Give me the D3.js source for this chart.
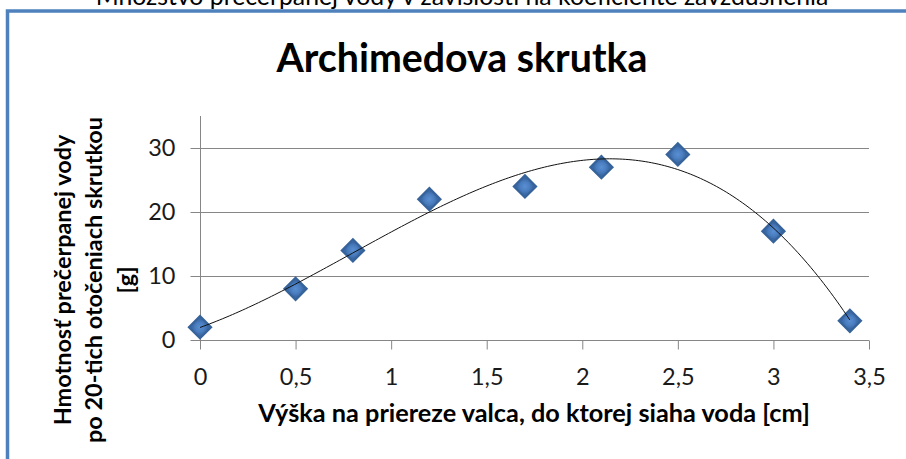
<!DOCTYPE html>
<html>
<head>
<meta charset="utf-8">
<script src="https://cdn.jsdelivr.net/npm/d3@7/dist/d3.min.js"></script>
<style>
  html, body { margin: 0; padding: 0; background: #fff; }
  svg { display: block; font-family: Lato, "Open Sans", sans-serif; }
</style>
</head>
<body>
<svg id="chart" width="906" height="459"></svg>
<script>
// ---- data ----
const xValues = [0, 0.5, 0.8, 1.2, 1.7, 2.1, 2.5, 3.0, 3.4];
const yValues = [2, 8, 14, 22, 24, 27, 29, 17, 3];
const xTicks = [0, 0.5, 1, 1.5, 2, 2.5, 3, 3.5];
const yTicks = [0, 10, 20, 30];
const captionText = "Množstvo prečerpanej vody v závislosti na koeficiente zavzdušnenia";
const titleText = "Archimedova skrutka";
const xTitle = "Výška na priereze valca, do ktorej siaha voda [cm]";
const yTitleLines = ["Hmotnosť prečerpanej vody", "po 20-tich otočeniach skrutkou", "[g]"];
const trendOrder = 3;

// ---- layout ----
const svg = d3.select("#chart");
const plot = { left: 200, right: 869, top: 116, bottom: 340 };
const x = d3.scaleLinear().domain([0, 3.5]).range([plot.left, plot.right]);
const y = d3.scaleLinear().domain([0, 35]).range([plot.bottom, plot.top]);
const grey = "#868686";
const fmt = v => String(v).replace(".", ",");

function fitWidth(sel, target) {
  const n = sel.node();
  const fs = parseFloat(sel.attr("font-size"));
  const w = n.getComputedTextLength();
  sel.attr("font-size", (fs * target / w).toFixed(2));
}

// caption (cut off at the top, as in the reference)
const cap = svg.append("text").attr("x", 462).attr("y", 5)
  .attr("text-anchor", "middle").attr("font-size", 22).attr("fill", "#000")
  .text(captionText);
fitWidth(cap, 733);

// blue frame
svg.append("rect").attr("x", 7.5).attr("y", 11).attr("width", 1000).attr("height", 1000)
  .attr("fill", "none").attr("stroke", "#4F81BD").attr("stroke-width", 3.5);

// title
const title = svg.append("text").attr("x", 462).attr("y", 72)
  .attr("text-anchor", "middle").attr("font-size", 36).attr("font-weight", "bold")
  .attr("fill", "#000").text(titleText);
fitWidth(title, 371);

// gridlines
svg.append("g").selectAll("line").data(yTicks.filter(d => d > 0)).join("line")
  .attr("x1", plot.left).attr("x2", plot.right)
  .attr("y1", d => Math.round(y(d)) + 0.5).attr("y2", d => Math.round(y(d)) + 0.5)
  .attr("stroke", grey).attr("stroke-width", 1);

// axes
const xAxis = svg.append("g").attr("transform", `translate(0,${plot.bottom + 0.5})`)
  .call(d3.axisBottom(x).tickValues(xTicks).tickFormat(fmt).tickSize(9).tickPadding(19));
const yAxis = svg.append("g").attr("transform", `translate(${plot.left + 0.5},0)`)
  .call(d3.axisLeft(y).tickValues(yTicks).tickSize(10).tickPadding(15));
[xAxis, yAxis].forEach(g => {
  g.select(".domain").attr("stroke", grey);
  g.selectAll(".tick line").attr("stroke", grey);
  g.selectAll(".tick text").attr("font-size", 23.5).attr("fill", "#1a1a1a")
    .attr("font-family", "Lato, sans-serif");
});
yAxis.select(".domain").attr("d", `M0,${plot.top}V${plot.bottom}`);
xAxis.select(".domain").attr("d", `M${plot.left},0H${plot.right}`);

// axis titles
const xt = svg.append("text").attr("x", 534).attr("y", 422)
  .attr("text-anchor", "middle").attr("font-size", 21).attr("font-weight", "bold")
  .attr("fill", "#000").text(xTitle);
fitWidth(xt, 552);

const yLineX = [62, 93, 125];
let ySize = null;
yTitleLines.forEach((t, i) => {
  const s = svg.append("text").attr("class", "ytitle").attr("text-anchor", "middle")
    .attr("dominant-baseline", "central")
    .attr("transform", `translate(${yLineX[i]},280) rotate(-90)`)
    .attr("font-size", 21).attr("font-weight", "bold").attr("fill", "#000").text(t);
  if (i === 1) { fitWidth(s, 326); ySize = s.attr("font-size"); }
});
svg.selectAll("text.ytitle").attr("font-size", ySize);

// ---- polynomial trendline (least squares) ----
function polyfit(xs, ys, order) {
  const n = order + 1;
  const A = Array.from({ length: n }, () => new Array(n + 1).fill(0));
  for (let r = 0; r < n; r++) {
    for (let c = 0; c < n; c++) A[r][c] = d3.sum(xs, v => Math.pow(v, r + c));
    A[r][n] = d3.sum(xs, (v, i) => Math.pow(v, r) * ys[i]);
  }
  for (let i = 0; i < n; i++) {
    let p = i;
    for (let k = i + 1; k < n; k++) if (Math.abs(A[k][i]) > Math.abs(A[p][i])) p = k;
    [A[i], A[p]] = [A[p], A[i]];
    for (let k = i + 1; k < n; k++) {
      const f = A[k][i] / A[i][i];
      for (let j = i; j <= n; j++) A[k][j] -= f * A[i][j];
    }
  }
  const coef = new Array(n).fill(0);
  for (let i = n - 1; i >= 0; i--) {
    let s = A[i][n];
    for (let j = i + 1; j < n; j++) s -= A[i][j] * coef[j];
    coef[i] = s / A[i][i];
  }
  return coef;
}
const coef = polyfit(xValues, yValues, trendOrder);
const pf = v => coef.reduce((s, c, i) => s + c * Math.pow(v, i), 0);
const xMin = d3.min(xValues), xMax = d3.max(xValues);
const samples = d3.range(0, 201).map(i => xMin + (xMax - xMin) * i / 200);

// markers
const defs = svg.append("defs");
const grad = defs.append("radialGradient").attr("id", "mk");
grad.append("stop").attr("offset", "0%").attr("stop-color", "#5A8FD3");
grad.append("stop").attr("offset", "60%").attr("stop-color", "#4A7EC0");
grad.append("stop").attr("offset", "100%").attr("stop-color", "#3B69A6");

const pts = xValues.map((v, i) => ({ x: v, y: yValues[i] }));
svg.append("g").selectAll("path").data(pts).join("path")
  .attr("d", d3.symbol(d3.symbolSquare, 245)())
  .attr("transform", d => `translate(${x(d.x)},${y(d.y)}) rotate(45)`)
  .attr("fill", "url(#mk)").attr("stroke", "#37639B").attr("stroke-width", 2.2);

// trendline on top
svg.append("path").datum(samples)
  .attr("d", d3.line().x(v => x(v)).y(v => y(pf(v))))
  .attr("fill", "none").attr("stroke", "#111").attr("stroke-width", 1);
</script>
</body>
</html>
